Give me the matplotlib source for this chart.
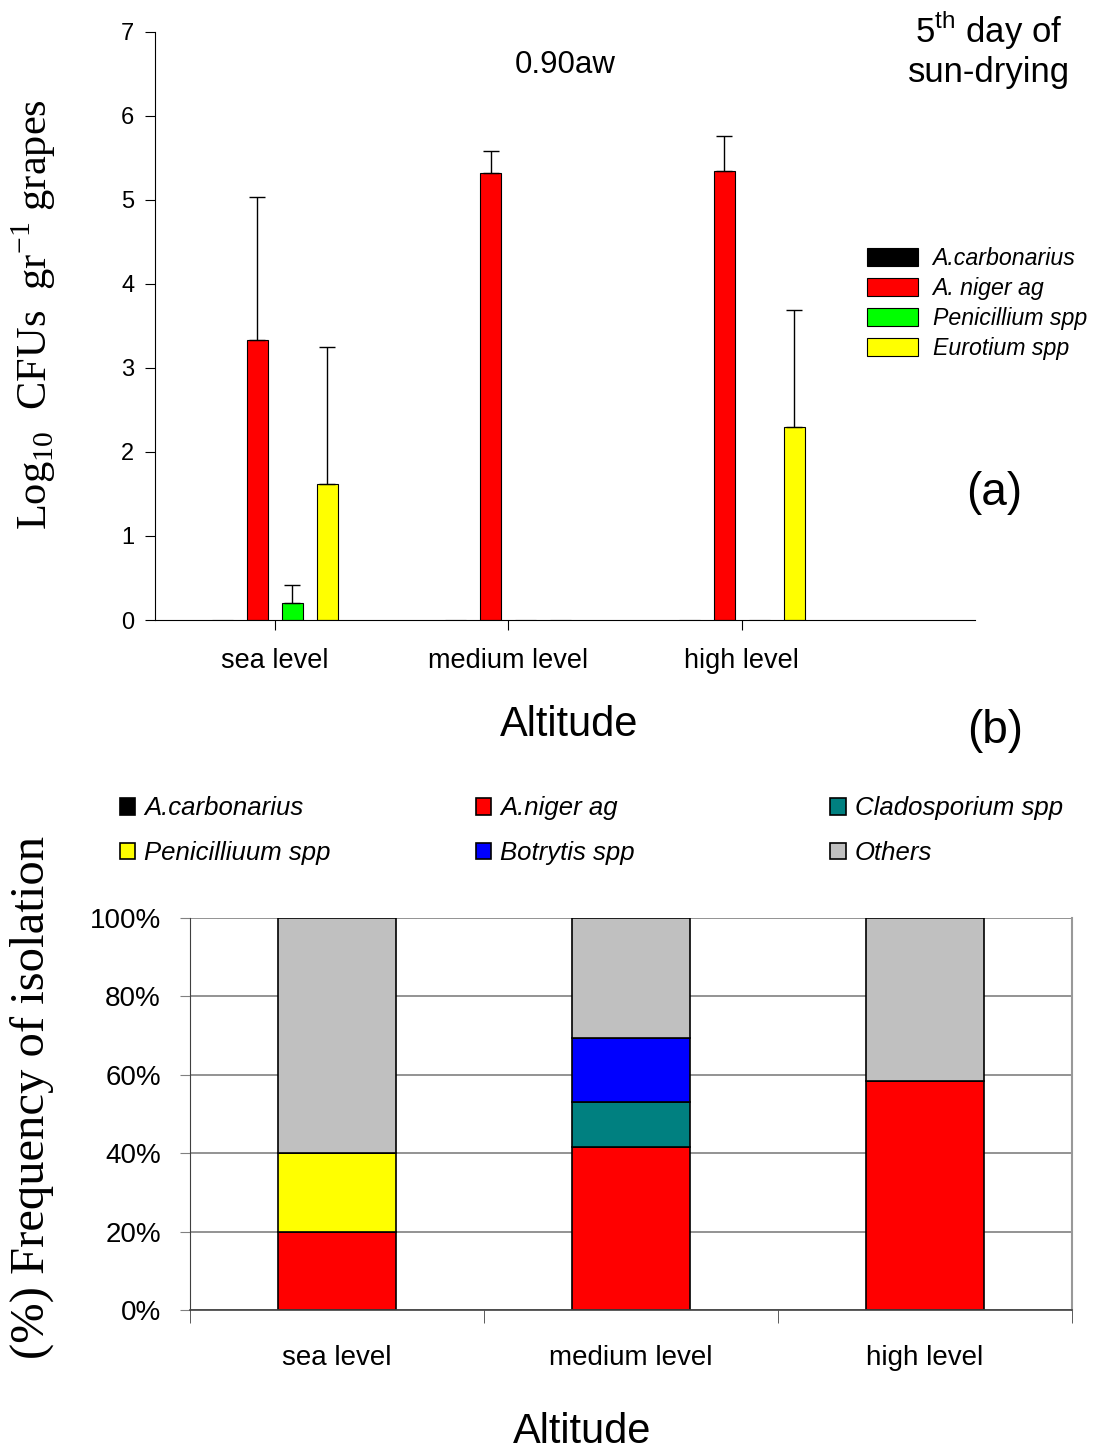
import numpy as np
import matplotlib
matplotlib.use("Agg")
import matplotlib.pyplot as plt

plt.rcParams["font.family"] = ["Liberation Sans", "DejaVu Sans"]

# panel (a) data
sites = ["sea level", "medium level", "high level"]
species_a = ["A.carbonarius", "A. niger ag", "Penicillium spp", "Eurotium spp"]
colors_a = ["#000000", "#ff0000", "#00ff00", "#ffff00"]
means_a = [
    [0.0, 0.0, 0.0],     # A.carbonarius
    [3.33, 5.32, 5.34],  # A. niger ag
    [0.20, 0.0, 0.0],    # Penicillium spp
    [1.62, 0.0, 2.30],   # Eurotium spp
]
errs_a = [
    [0.0, 0.0, 0.0],
    [1.70, 0.26, 0.42],
    [0.22, 0.0, 0.0],
    [1.63, 0.0, 1.39],
]

# panel (b) data (% frequency of isolation)
species_b = ["A.carbonarius", "A.niger ag", "Cladosporium spp",
             "Penicilliuum spp", "Botrytis spp", "Others"]
colors_b = ["#000000", "#ff0000", "#008080", "#ffff00", "#0000ff", "#c0c0c0"]
stack_order = ["A.carbonarius", "A.niger ag", "Penicilliuum spp",
               "Cladosporium spp", "Botrytis spp", "Others"]
freq_b = {
    "A.carbonarius": [0, 0, 0],
    "A.niger ag": [20, 41.5, 58.5],
    "Penicilliuum spp": [20, 0, 0],
    "Cladosporium spp": [0, 11.5, 0],
    "Botrytis spp": [0, 16.5, 0],
    "Others": [60, 30.5, 41.5],
}
# legend columns as laid out in the reference
legend_cols_b = [["A.carbonarius", "Penicilliuum spp"],
                 ["A.niger ag", "Botrytis spp"],
                 ["Cladosporium spp", "Others"]]

fig = plt.figure(figsize=(10.93, 14.52), dpi=100)

# ---- panel (a)
ax1 = fig.add_axes([0.1418, 0.573, 0.7502, 0.405])
x = np.arange(len(sites))
w = 0.09
step = 0.15
for i, (name, col) in enumerate(zip(species_a, colors_a)):
    pos = x + (i - 1.5) * step
    ax1.bar(pos, means_a[i], w, color=col, edgecolor="black", linewidth=0.8,
            label=name, zorder=2)
    vals = np.array(means_a[i])
    errs = np.array(errs_a[i])
    mask = errs > 0
    ax1.errorbar(pos[mask], vals[mask], yerr=[np.zeros(mask.sum()), errs[mask]],
                 fmt="none", ecolor="black", elinewidth=1.0, capsize=6,
                 capthick=1.0, zorder=3)
ax1.set_xlim(-0.514, 3.0)
ax1.set_ylim(0, 7)
ax1.set_yticks(range(8))
ax1.set_xticks(x)
ax1.set_xticklabels(sites, fontsize=19.5)
ax1.tick_params(axis="y", labelsize=17, direction="out", length=7, pad=8)
ax1.tick_params(axis="x", direction="out", length=7, pad=13)
for s in ["top", "right"]:
    ax1.spines[s].set_visible(False)
ax1.set_ylabel(r"Log$_{\mathregular{10}}$  CFUs  gr$^{\mathregular{-1}}$ grapes",
               family="Liberation Serif", fontsize=30.5)
ax1.yaxis.set_label_coords(-0.118, 0.519)
ax1.text(0.5, 0.944, "0.90aw", transform=ax1.transAxes, ha="center", va="center",
         fontsize=22.5)
ax1.legend(loc="upper left", bbox_to_anchor=(0.8685, 0.6346), frameon=False,
           prop={"style": "italic", "size": 16.7}, handlelength=2.2,
           handleheight=0.8, labelspacing=0.3, handletextpad=0.62,
           borderaxespad=0, borderpad=0)

fig.text(0.905, 0.979, r"5$^{\mathregular{th}}$ day of", ha="center",
         va="center", fontsize=25)
fig.text(0.905, 0.950, "sun-drying", ha="center", va="center", fontsize=25)
fig.text(0.910, 0.6605, "(a)", ha="center", va="center", fontsize=33)
fig.text(0.521, 0.5005, "Altitude", ha="center", va="center", fontsize=30)
fig.text(0.910, 0.4966, "(b)", ha="center", va="center", fontsize=33)

# ---- panel (b)
ax2 = fig.add_axes([0.1738, 0.0978, 0.807, 0.270])
bottom = np.zeros(len(sites))
handles = {}
for name in stack_order:
    col = colors_b[species_b.index(name)]
    vals = np.array(freq_b[name], dtype=float)
    h = ax2.bar(x, vals, 0.4, bottom=bottom, color=col, edgecolor="black",
                linewidth=1.2, label=name, zorder=2)
    handles[name] = h
    bottom += vals
ax2.set_xlim(-0.5, 2.5)
ax2.set_ylim(0, 100)
ax2.set_yticks(range(0, 101, 20))
ax2.set_yticklabels([f"{v}%" for v in range(0, 101, 20)])
ax2.yaxis.grid(True, color="#808080", linewidth=1.2, zorder=0)
ax2.set_axisbelow(True)
ax2.set_xticks(x)
ax2.set_xticklabels(sites, fontsize=20)
ax2.set_xticks([-0.5, 0.5, 1.5, 2.5], minor=True)
ax2.tick_params(axis="x", which="major", length=0, pad=25)
ax2.tick_params(axis="x", which="minor", length=9, direction="out", color="#404040")
ax2.tick_params(axis="y", labelsize=20, length=7, color="#808080", pad=14)
ax2.spines["top"].set_visible(False)
ax2.spines["right"].set_color("#999999")
ax2.spines["right"].set_linewidth(1.5)
ax2.spines["left"].set_color("#404040")
ax2.spines["bottom"].set_color("#404040")
ax2.spines["bottom"].set_linewidth(1.2)
ax2.set_ylabel("(%) Frequency of isolation", family="Liberation Serif",
               fontsize=35)
ax2.yaxis.set_label_coords(-0.154, 0.543)
fig.text(0.533, 0.014, "Altitude", ha="center", va="center", fontsize=30)

col_x = [0.1095, 0.4355, 0.7595]
for cx, names in zip(col_x, legend_cols_b):
    fig.legend([handles[n] for n in names], names, loc="upper left",
               bbox_to_anchor=(cx, 0.4515), frameon=False,
               prop={"style": "italic", "size": 18.5}, handlelength=0.6,
               handleheight=0.6, handletextpad=0.35, labelspacing=0.8,
               borderaxespad=0, borderpad=0)

fig.savefig("out.png", dpi=100)
